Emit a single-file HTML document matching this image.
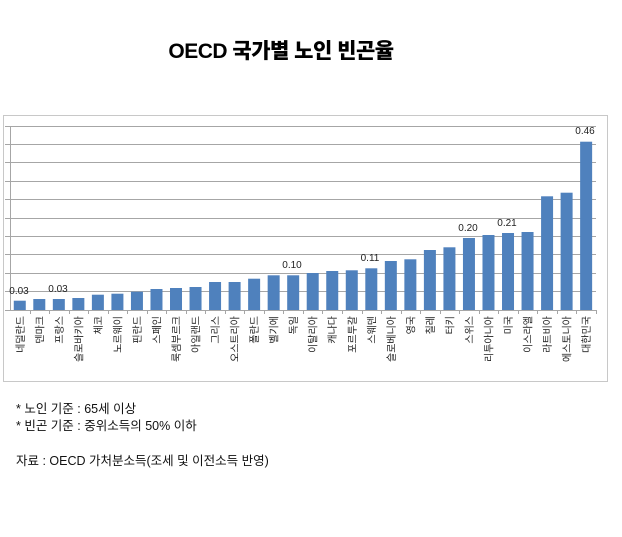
<!DOCTYPE html>
<html><head><meta charset="utf-8"><style>
body{margin:0;background:#fff;width:622px;height:532px;overflow:hidden}
</style></head><body>
<svg width="622" height="532" xmlns="http://www.w3.org/2000/svg" font-family="Liberation Sans, Noto Sans CJK KR, sans-serif">
<text x="281" y="58" font-size="21" font-weight="900" text-anchor="middle" fill="#000" font-family="Liberation Sans, Noto Sans CJK KR, sans-serif" letter-spacing="-0.5">OECD 국가별 노인 빈곤율</text>
<rect x="3.5" y="115.5" width="604" height="266" fill="none" stroke="#c8c8c8"/>
<g stroke="#a6a6a6" stroke-width="1">
<line x1="5" y1="126.5" x2="596" y2="126.5"/>
<line x1="5" y1="144.5" x2="596" y2="144.5"/>
<line x1="5" y1="162.5" x2="596" y2="162.5"/>
<line x1="5" y1="181.5" x2="596" y2="181.5"/>
<line x1="5" y1="199.5" x2="596" y2="199.5"/>
<line x1="5" y1="218.5" x2="596" y2="218.5"/>
<line x1="5" y1="236.5" x2="596" y2="236.5"/>
<line x1="5" y1="254.5" x2="596" y2="254.5"/>
<line x1="5" y1="273.5" x2="596" y2="273.5"/>
<line x1="5" y1="291.5" x2="596" y2="291.5"/>
<line x1="5" y1="310.5" x2="596" y2="310.5"/>
<line x1="10.5" y1="126" x2="10.5" y2="310"/>
</g>
<g id="bars" fill="#4f81bd"></g>
<g id="ticks" stroke="#a6a6a6"></g>
<g id="labels" font-size="10" fill="#222"></g>
<g font-size="10" fill="#222" text-anchor="middle">
<text x="19" y="294">0.03</text>
<text x="58" y="292">0.03</text>
<text x="292" y="268">0.10</text>
<text x="370" y="261">0.11</text>
<text x="468" y="231">0.20</text>
<text x="507" y="226">0.21</text>
<text x="585" y="134">0.46</text>
</g>
<g font-size="12.5" fill="#111" font-family="Liberation Sans, Noto Sans CJK KR, sans-serif">
<text x="16" y="413">* 노인 기준 : 65세 이상</text>
<text x="16" y="430">* 빈곤 기준 : 중위소득의 50% 이하</text>
<text x="16" y="465">자료 : OECD 가처분소득(조세 및 이전소득 반영)</text>
</g>
</svg>
<script>
var names=["네덜란드","덴마크","프랑스","슬로바키아","체코","노르웨이","핀란드","스페인","룩셈부르크","아일랜드","그리스","오스트리아","폴란드","벨기에","독일","이탈리아","캐나다","포르투갈","스웨덴","슬로베니아","영국","칠레","터키","스위스","리투아니아","미국","이스라엘","라트비아","에스토니아","대한민국"];
var tops=[300.7,299,299,298,294.7,293.7,291.7,289,288,287,282,282,278.7,275.3,275.3,273,271,270.3,268.3,261,259.3,250,247.3,238,235,233,232,196.3,192.7,141.7];
var ns="http://www.w3.org/2000/svg",slot=19.53;
var b=document.getElementById("bars"),t=document.getElementById("ticks"),l=document.getElementById("labels");
for(var i=0;i<30;i++){var c=10+slot*(i+0.5);
var r=document.createElementNS(ns,"rect");r.setAttribute("x",c-6);r.setAttribute("width",12);r.setAttribute("y",tops[i]);r.setAttribute("height",310-tops[i]);b.appendChild(r);
var k=document.createElementNS(ns,"line");var tx=Math.round(10+slot*(i+1))+0.5;k.setAttribute("x1",tx);k.setAttribute("x2",tx);k.setAttribute("y1",310);k.setAttribute("y2",314);t.appendChild(k);
var s=document.createElementNS(ns,"text");s.setAttribute("transform","translate("+(c+4)+",316) rotate(-90)");s.setAttribute("text-anchor","end");s.textContent=names[i];l.appendChild(s);}
</script>
</body></html>
